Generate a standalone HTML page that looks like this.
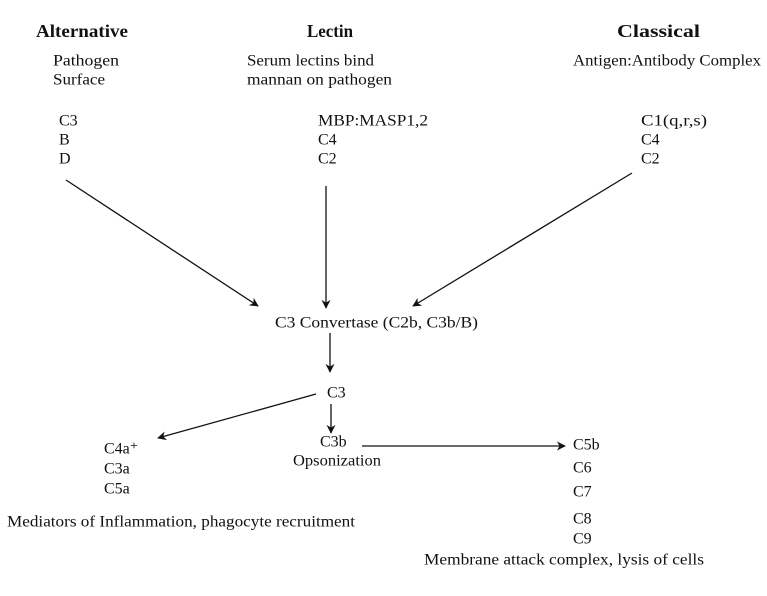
<!DOCTYPE html>
<html><head><meta charset="utf-8"><style>
html,body{margin:0;padding:0;background:#fff;}
svg{display:block;}
text{font-family:"Liberation Serif",serif;font-size:16px;fill:#111;}
.t{font-weight:bold;font-size:18px;}
line{stroke:#111;stroke-width:1.3;}
</style></head><body>
<svg width="767" height="596" viewBox="0 0 767 596">
<defs><marker id="ah" viewBox="0 0 10 10" refX="9" refY="5" markerWidth="9" markerHeight="9" orient="auto" markerUnits="userSpaceOnUse"><path d="M0,0 L10,5 L0,10 L3,5 Z" fill="#111"/></marker></defs>
<g dominant-baseline="middle" lengthAdjust="spacingAndGlyphs">
<text class="t" x="36" y="33" textLength="92" lengthAdjust="spacingAndGlyphs">Alternative</text>
<text class="t" x="307" y="33" textLength="46" lengthAdjust="spacingAndGlyphs">Lectin</text>
<text class="t" x="617" y="33" textLength="83" lengthAdjust="spacingAndGlyphs">Classical</text>
<text x="53" y="62" textLength="66" lengthAdjust="spacingAndGlyphs">Pathogen</text>
<text x="53" y="81" textLength="52" lengthAdjust="spacingAndGlyphs">Surface</text>
<text x="247" y="62" textLength="127" lengthAdjust="spacingAndGlyphs">Serum lectins bind</text>
<text x="247" y="81" textLength="145" lengthAdjust="spacingAndGlyphs">mannan on pathogen</text>
<text x="573" y="62" textLength="188" lengthAdjust="spacingAndGlyphs">Antigen:Antibody Complex</text>
<text x="59" y="122">C3</text>
<text x="59" y="141">B</text>
<text x="59" y="160">D</text>
<text x="318" y="122" textLength="110" lengthAdjust="spacingAndGlyphs">MBP:MASP1,2</text>
<text x="318" y="141">C4</text>
<text x="318" y="160">C2</text>
<text x="641" y="122" textLength="66" lengthAdjust="spacingAndGlyphs">C1(q,r,s)</text>
<text x="641" y="141">C4</text>
<text x="641" y="160">C2</text>
<text x="275" y="324" textLength="203" lengthAdjust="spacingAndGlyphs">C3 Convertase (C2b, C3b/B)</text>
<text x="327" y="394">C3</text>
<text x="320" y="443">C3b</text>
<text x="293" y="462" textLength="88" lengthAdjust="spacingAndGlyphs">Opsonization</text>
<text x="104" y="450">C4a⁺</text>
<text x="104" y="470">C3a</text>
<text x="104" y="490">C5a</text>
<text x="7" y="523" textLength="348" lengthAdjust="spacingAndGlyphs">Mediators of Inflammation, phagocyte recruitment</text>
<text x="573" y="446">C5b</text>
<text x="573" y="469">C6</text>
<text x="573" y="493">C7</text>
<text x="573" y="520">C8</text>
<text x="573" y="540">C9</text>
<text x="424" y="561" textLength="280" lengthAdjust="spacingAndGlyphs">Membrane attack complex, lysis of cells</text>
</g>
<line x1="66" y1="180" x2="258" y2="306" marker-end="url(#ah)"/>
<line x1="326" y1="186" x2="326" y2="308" marker-end="url(#ah)"/>
<line x1="632" y1="173" x2="413" y2="306" marker-end="url(#ah)"/>
<line x1="330" y1="333" x2="330" y2="372" marker-end="url(#ah)"/>
<line x1="316" y1="394" x2="158" y2="438" marker-end="url(#ah)"/>
<line x1="331" y1="404" x2="331" y2="433" marker-end="url(#ah)"/>
<line x1="362" y1="446" x2="565" y2="446" marker-end="url(#ah)"/>
</svg>
</body></html>
